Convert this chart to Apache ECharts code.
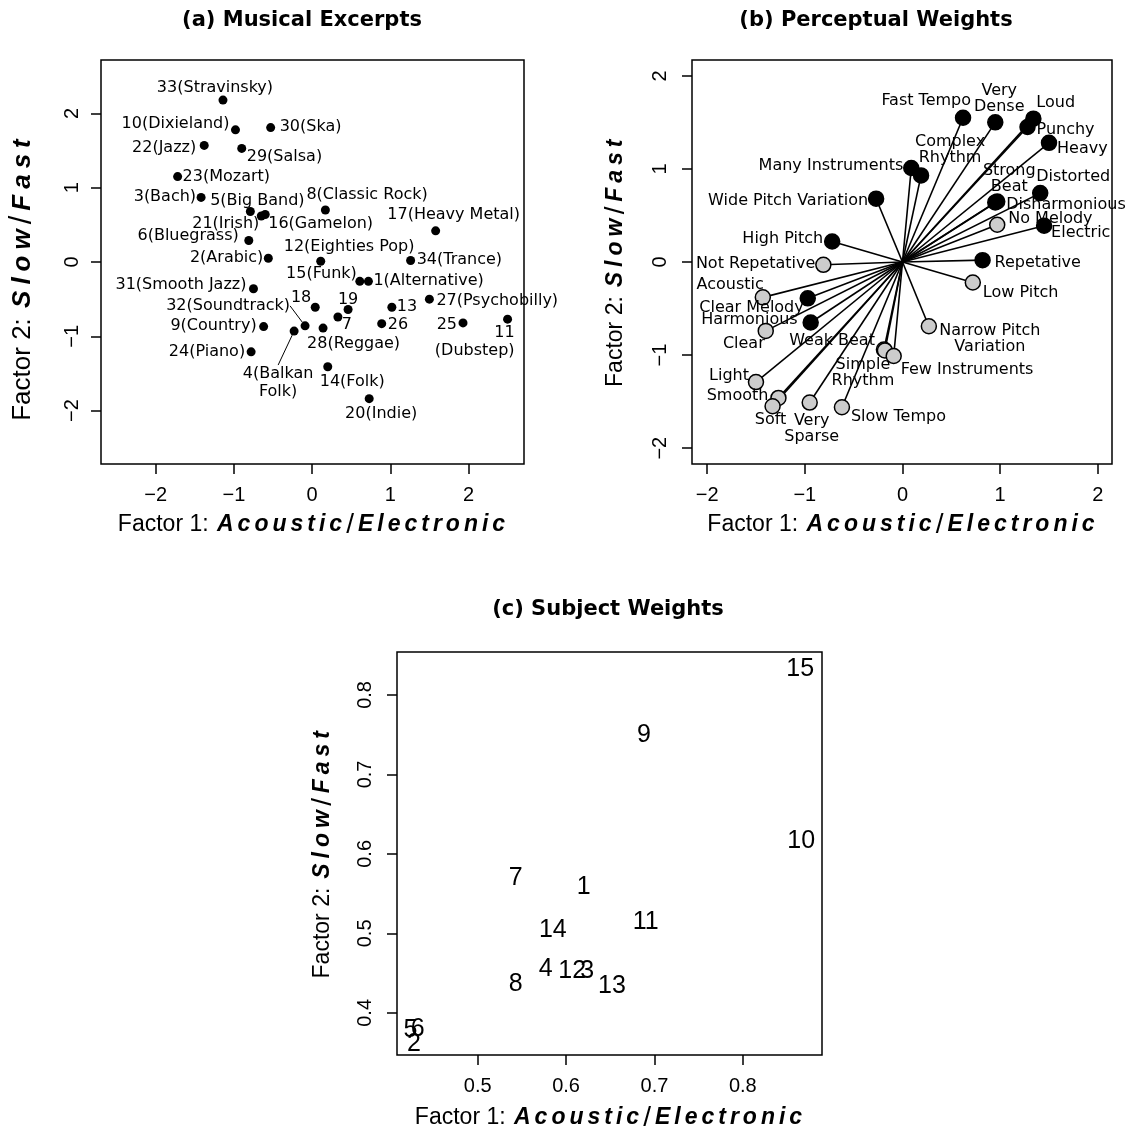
<!DOCTYPE html>
<html>
<head>
<meta charset="utf-8">
<script src="https://cdn.jsdelivr.net/npm/echarts@6/dist/echarts.min.js"></script>
<style>html,body{margin:0;padding:0;background:#fff}#c{width:1133px;height:1135px}</style>
</head>
<body>
<div id="c"></div>
<script>
// ---------------- DATA ----------------
// (a) Musical excerpts
const excerptLabels = ['1(Alternative)','2(Arabic)','3(Bach)','4(Balkan\nFolk)','5(Big Band)','6(Bluegrass)','7','8(Classic Rock)','9(Country)','10(Dixieland)','11\n(Dubstep)','12(Eighties Pop)','13','14(Folk)','15(Funk)','16(Gamelon)','17(Heavy Metal)','18','19','20(Indie)','21(Irish)','22(Jazz)','23(Mozart)','24(Piano)','25','26','27(Psychobilly)','28(Reggae)','29(Salsa)','30(Ska)','31(Smooth Jazz)','32(Soundtrack)','33(Stravinsky)','34(Trance)'];
const excerptX = [0.72,-0.56,-1.42,-0.23,-0.79,-0.81,0.33,0.17,-0.62,-0.98,2.50,0.11,1.02,0.20,0.61,-0.60,1.58,0.04,0.46,0.73,-0.65,-1.38,-1.72,-0.78,1.93,0.89,1.50,0.14,-0.90,-0.53,-0.75,-0.09,-1.14,1.26];
const excerptY = [-0.26,0.05,0.87,-0.93,0.68,0.29,-0.74,0.70,-0.87,1.78,-0.77,0.01,-0.61,-1.41,-0.26,0.64,0.42,-0.61,-0.64,-1.84,0.62,1.57,1.15,-1.21,-0.82,-0.83,-0.50,-0.89,1.53,1.81,-0.36,-0.86,2.18,0.02];

// (b) Perceptual weights
const weightLabels = ['Fast Tempo','Very\nDense','Loud','Punchy','Heavy','Many Instruments','Complex\nRhythm','Wide Pitch Variation','Strong\nBeat','Disharmonious','Distorted','Electric','No Melody','High Pitch','Repetative','Not Repetative','Low Pitch','Acoustic','Clear Melody','Harmonious','Clear','Narrow Pitch\nVariation','Weak Beat','Simple\nRhythm','Few Instruments','Light','Smooth','Soft','Very\nSparse','Slow Tempo'];
const weightX = [0.62,0.95,1.34,1.28,1.50,0.09,0.19,-0.27,0.95,0.97,1.41,1.45,0.97,-0.72,0.82,-0.81,0.72,-1.43,-0.97,-0.94,-1.40,0.27,-0.19,-0.18,-0.09,-1.50,-1.27,-1.33,-0.95,-0.62];
const weightY = [1.55,1.50,1.54,1.45,1.28,1.01,0.93,0.68,0.64,0.65,0.74,0.39,0.40,0.22,0.02,-0.03,-0.22,-0.38,-0.39,-0.65,-0.74,-0.69,-0.94,-0.95,-1.01,-1.29,-1.46,-1.55,-1.51,-1.56];
const weightGroup = ['dark','dark','dark','dark','dark','dark','dark','dark','dark','dark','dark','dark','light','dark','dark','light','light','light','dark','dark','light','light','light','light','light','light','light','light','light','light'];

// (c) Subject weights
const subjectIds = ['1','2','3','4','5','6','7','8','9','10','11','12','13','14','15'];
const subjectX = [0.620,0.428,0.624,0.577,0.424,0.432,0.543,0.543,0.688,0.866,0.690,0.607,0.652,0.585,0.865];
const subjectY = [0.558,0.361,0.452,0.455,0.378,0.379,0.569,0.436,0.750,0.616,0.514,0.452,0.434,0.504,0.832];

// tick labels
const factorTicks = [-2,-1,0,1,2];
const subjectXTicks = [0.5,0.6,0.7,0.8];
const subjectYTicks = [0.4,0.5,0.6,0.7,0.8];

// ---------------- LAYOUT (label placement, px offsets from point) ----------------
const excerptLabelPlacement = [
 [5,0,'left'],[-5,0,'right'],[-5,-1,'right'],[-16,52,'center'],[7,-11,'center'],[-10,-5,'right'],[9,8,'center'],[-19,-15,'left'],[-7,-1,'right'],[-6,-6,'right'],
 [7,23,'right'],[-37,-14,'left'],[5,0,'left'],[-8,15,'left'],[-3,-7,'right'],[3,9,'left'],[18,-16,'center'],[-4,-9,'right'],[0,-10,'center'],[12,15,'center'],
 [-2,8,'right'],[-8,2,'right'],[5,0,'left'],[-6,0,'right'],[-6,2,'right'],[6,1,'left'],[7,2,'left'],[-16,16,'left'],[5,8,'left'],[9,-1,'left'],
 [-7,-4,'right'],[-15,-20,'right'],[-8,-12,'center'],[6,-1,'left']
];
const excerptLeader = {3:true, 31:true};
const weightLabelPlacement = [
 [8,-17,'right'],[4,-24,'center'],[3,-16,'left'],[9,3,'left'],[8,6,'left'],[-8,-2,'right'],[29,-26,'center'],[-8,2,'right'],[14,-24,'center'],[9,3,'left'],
 [-4,-16,'left'],[7,7,'left'],[11,-6,'left'],[-9,-3,'right'],[12,3,'left'],[-8,-1,'right'],[10,10,'left'],[1,-13,'right'],[-4,10,'right'],[-13,-3,'right'],
 [-1,13,'right'],[61,13,'center'],[-9,-9,'right'],[-22,22,'center'],[7,14,'left'],[-7,-6,'right'],[-10,-2,'right'],[-2,14,'center'],[2,26,'center'],[9,10,'left']
];

// ---------------- OPTION ----------------
const SANS = 'Liberation Sans, Arial, sans-serif';
const LABEL_FONT = 'DejaVu Sans, sans-serif';
function spaced(word, key) { return word.split('').map(ch => '{' + key + '|' + ch + '}').join(''); }
function makeRich(size, pad, slash) {
  return {
    n: {fontFamily: SANS, fontSize: size, color: '#000'},
    b: {fontFamily: SANS, fontSize: size, fontWeight: 'bold', fontStyle: 'italic', color: '#000', padding: [0, pad, 0, pad]},
    s: {fontFamily: SANS, fontSize: slash, color: '#000', padding: [0, 2, 0, 2]}
  };
}
const xTitle = '{n|Factor 1: }' + spaced('Acoustic','b') + '{s|/}' + spaced('Electronic','b');
const yTitle = '{n|Factor 2: }' + spaced('Slow','b') + '{s|/}' + spaced('Fast','b');
const fmt = v => (v < 0 ? '\u2212' + (-v) : String(v));

function axis(gridIndex, min, max, ticks, isY, nameGap, labelMargin, rich, namePad) {
  return {
    type: 'value', gridIndex, min, max,
    name: isY ? yTitle : xTitle, nameLocation: 'middle', nameGap,
    nameRotate: isY ? 90 : 0,
    nameTextStyle: {rich: rich, padding: namePad || 0},
    axisLine: {show: false, onZero: false},
    axisTick: {show: true, inside: false, length: 10, customValues: ticks, lineStyle: {color: '#000', width: 1.5}},
    axisLabel: {show: true, customValues: ticks, formatter: fmt, rotate: isY ? 90 : 0, margin: labelMargin,
      fontFamily: SANS, fontSize: 20, color: '#000'},
    splitLine: {show: false}
  };
}

const gridStyle = {show: true, borderColor: '#000', borderWidth: 1.5, backgroundColor: 'transparent', containLabel: false, outerBoundsMode: 'none'};
const richX = makeRich(23, 2, 28);
const richY = makeRich(23, 2.5, 28);
const richYa = makeRich(26, 3, 31);

const option = {
  backgroundColor: '#fff',
  animation: false,
  title: [
    {text: '(a) Musical Excerpts', left: 302, top: 21, textAlign: 'center', textVerticalAlign: 'middle', padding: 0,
      textStyle: {fontFamily: LABEL_FONT, fontWeight: 'bold', fontSize: 21, color: '#000'}},
    {text: '(b) Perceptual Weights', left: 876, top: 21, textAlign: 'center', textVerticalAlign: 'middle', padding: 0,
      textStyle: {fontFamily: LABEL_FONT, fontWeight: 'bold', fontSize: 21, color: '#000'}},
    {text: '(c) Subject Weights', left: 608, top: 610, textAlign: 'center', textVerticalAlign: 'middle', padding: 0,
      textStyle: {fontFamily: LABEL_FONT, fontWeight: 'bold', fontSize: 21, color: '#000'}}
  ],
  grid: [
    Object.assign({left: 101, top: 60, width: 423, height: 404}, gridStyle),
    Object.assign({left: 692, top: 60, width: 420, height: 404}, gridStyle),
    Object.assign({left: 397, top: 652, width: 425, height: 403}, gridStyle)
  ],
  xAxis: [
    axis(0, -2.70, 2.71, factorTicks, false, 47, 21, richX),
    axis(1, -2.155, 2.145, factorTicks, false, 47, 21, richX),
    axis(2, 0.4087, 0.8896, subjectXTicks, false, 49, 21, richX)
  ],
  yAxis: [
    axis(0, -2.72, 2.72, factorTicks, true, 63, 18.5, richYa, [0, 33, 0, 0]),
    axis(1, -2.17, 2.17, factorTicks, true, 62, 21.5, richY),
    axis(2, 0.347, 0.854, subjectYTicks, true, 60, 21.5, richY)
  ],
  series: [
    {
      type: 'scatter', xAxisIndex: 0, yAxisIndex: 0, symbol: 'circle', symbolSize: 9,
      itemStyle: {color: '#000', opacity: 1},
      data: excerptX.map((x, i) => {
        const d = {value: [x, excerptY[i]], name: excerptLabels[i]};
        if (excerptLeader[i]) d.labelLine = {show: true, lineStyle: {color: '#000', width: 1}};
        return d;
      }),
      label: {show: true, position: 'inside', formatter: p => p.name, color: '#000', opacity: 1, fontFamily: LABEL_FONT, fontSize: 16,
        lineHeight: 18, textBorderWidth: 0, textBorderColor: 'transparent'},
      labelLine: {show: false, smooth: false, length2: 0, minTurnAngle: 0, lineStyle: {color: '#000', width: 1}},
      labelLayout: p => { const o = excerptLabelPlacement[p.dataIndex]; return {dx: o[0], dy: o[1], align: o[2], verticalAlign: 'middle'}; },
      emphasis: {disabled: true}, z: 3
    },
    {
      type: 'lines', coordinateSystem: 'cartesian2d', xAxisIndex: 1, yAxisIndex: 1, polyline: false, silent: true,
      data: weightX.map((x, i) => ({coords: [[0, 0], [x, weightY[i]]]})),
      lineStyle: {color: '#000', width: 1.6, opacity: 1, curveness: 0},
      z: 1
    },
    {
      type: 'scatter', xAxisIndex: 1, yAxisIndex: 1, symbol: 'circle', symbolSize: 15,
      itemStyle: {color: p => weightGroup[p.dataIndex] === 'dark' ? '#000' : '#cccccc', borderColor: '#000', borderWidth: 1.5, opacity: 1},
      data: weightX.map((x, i) => ({value: [x, weightY[i]], name: weightLabels[i]})),
      label: {show: true, position: 'inside', formatter: p => p.name, color: '#000', opacity: 1, fontFamily: LABEL_FONT, fontSize: 16,
        lineHeight: 16, textBorderWidth: 0, textBorderColor: 'transparent'},
      labelLayout: p => { const o = weightLabelPlacement[p.dataIndex]; return {dx: o[0], dy: o[1], align: o[2], verticalAlign: 'middle'}; },
      emphasis: {disabled: true}, z: 3
    },
    {
      type: 'scatter', xAxisIndex: 2, yAxisIndex: 2, symbol: 'circle', symbolSize: 1,
      itemStyle: {color: 'rgba(0,0,0,0)', opacity: 1},
      data: subjectX.map((x, i) => ({value: [x, subjectY[i]], name: subjectIds[i]})),
      label: {show: true, position: 'inside', formatter: p => p.name, color: '#000', opacity: 1, fontFamily: SANS, fontSize: 25,
        textBorderWidth: 0, textBorderColor: 'transparent'},
      emphasis: {disabled: true}, z: 3
    }
  ]
};

const chart = echarts.init(document.getElementById('c'), null, {renderer: 'canvas'});
chart.setOption(option);
</script>
</body>
</html>
